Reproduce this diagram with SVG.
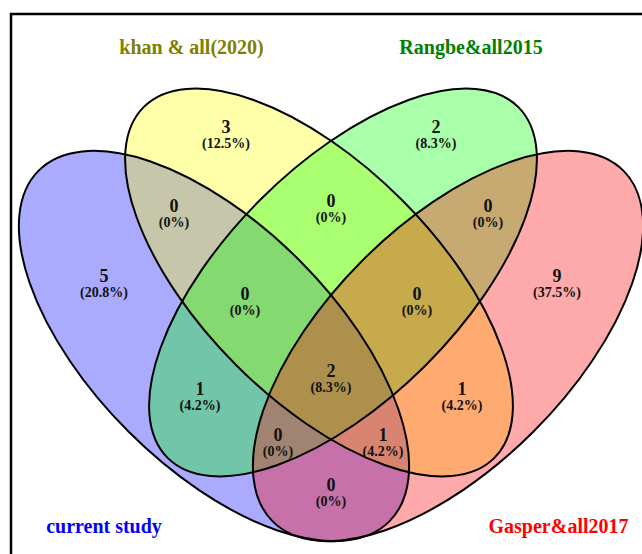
<svg xmlns="http://www.w3.org/2000/svg" width="642" height="554" viewBox="0 0 642 554">
<style>
.frame{fill:none;stroke:#000;stroke-width:2.5}
.f{fill-opacity:0.3333;stroke:none}
.o{fill:none;stroke:#000;stroke-width:2}
.n{font-family:"Liberation Serif","Times New Roman",serif;font-weight:bold;font-size:18px;fill:#111;text-anchor:middle}
.p{font-family:"Liberation Serif","Times New Roman",serif;font-weight:bold;font-size:14px;fill:#111;text-anchor:middle}
.c{font-family:"Liberation Serif","Times New Roman",serif;font-weight:bold;font-size:20px;text-anchor:middle}
</style>
<defs>
<ellipse id="eA" cx="0" cy="0" rx="248" ry="121" transform="translate(214,346) rotate(45)"/>
<ellipse id="eB" cx="0" cy="0" rx="248" ry="117" transform="translate(319,282.5) rotate(45)"/>
<ellipse id="eC" cx="0" cy="0" rx="248" ry="117" transform="translate(343,282.5) rotate(-45)"/>
<ellipse id="eD" cx="0" cy="0" rx="248" ry="121" transform="translate(448,346) rotate(-45)"/>
</defs>
<rect width="642" height="554" fill="#fff"/>
<path class="frame" d="M11,554 V14 H642"/>
<g id="fills">
<use href="#eA" class="f" fill="#0000ff"/>
<use href="#eB" class="f" fill="#ffff00"/>
<use href="#eC" class="f" fill="#00ff00"/>
<use href="#eD" class="f" fill="#ff0000"/>
</g>
<g id="set-current-study">
<use href="#eA" class="o"/>
<text class="c" x="104" y="533" fill="#0000ff">current study</text>
</g>
<g id="set-khan">
<use href="#eB" class="o"/>
<text class="c" x="191.5" y="54" fill="#808000">khan &amp; all(2020)</text>
</g>
<g id="set-rangbe">
<use href="#eC" class="o"/>
<text class="c" x="471" y="54" fill="#008000">Rangbe&amp;all2015</text>
</g>
<g id="set-gasper">
<use href="#eD" class="o"/>
<text class="c" x="558.5" y="533" fill="#ff0000">Gasper&amp;all2017</text>
</g>
<g id="region-labels">
<text class="n" x="226" y="133">3</text><text class="p" x="226" y="148">(12.5%)</text>
<text class="n" x="436" y="133">2</text><text class="p" x="436" y="148">(8.3%)</text>
<text class="n" x="174" y="212">0</text><text class="p" x="174" y="227">(0%)</text>
<text class="n" x="331" y="207">0</text><text class="p" x="331" y="222">(0%)</text>
<text class="n" x="488" y="212">0</text><text class="p" x="488" y="227">(0%)</text>
<text class="n" x="104" y="282">5</text><text class="p" x="104" y="297">(20.8%)</text>
<text class="n" x="557" y="282">9</text><text class="p" x="557" y="297">(37.5%)</text>
<text class="n" x="245" y="300">0</text><text class="p" x="245" y="315">(0%)</text>
<text class="n" x="417" y="300">0</text><text class="p" x="417" y="315">(0%)</text>
<text class="n" x="331" y="377">2</text><text class="p" x="331" y="392">(8.3%)</text>
<text class="n" x="200" y="395">1</text><text class="p" x="200" y="410">(4.2%)</text>
<text class="n" x="462" y="395">1</text><text class="p" x="462" y="410">(4.2%)</text>
<text class="n" x="278" y="441">0</text><text class="p" x="278" y="456">(0%)</text>
<text class="n" x="383" y="441">1</text><text class="p" x="383" y="456">(4.2%)</text>
<text class="n" x="331" y="491">0</text><text class="p" x="331" y="506">(0%)</text>
</g>
</svg>
